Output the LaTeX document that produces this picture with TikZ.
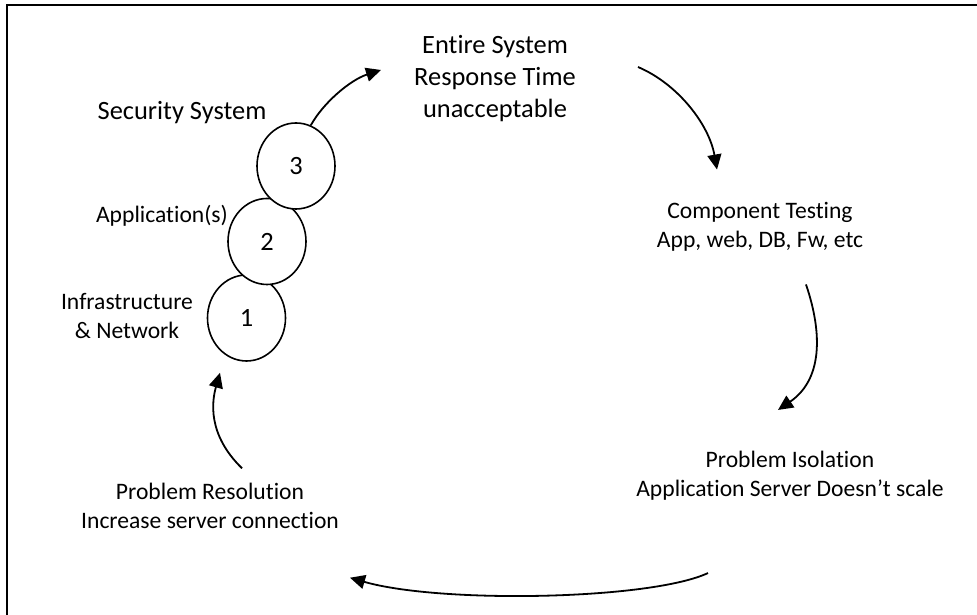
\documentclass[tikz,border=0pt]{standalone}
\usepackage{fontspec}
\setmainfont{Carlito}[Ligatures={NoCommon,NoContextual}]
\usetikzlibrary{positioning,shapes.geometric,arrows.meta,calc}

\begin{document}
\begin{tikzpicture}[
  x=1pt, y=1pt,
  bigtext/.style={font=\fontsize{26.4}{32}\selectfont, align=center, inner sep=0pt},
  smalltext/.style={font=\fontsize{23.6}{28.5}\selectfont, align=center, inner sep=0pt},
  layer/.style={draw, ellipse, fill=white, line width=1.6pt, minimum width=78pt, minimum height=86pt, inner sep=0pt, font=\fontsize{26.4}{32}\selectfont},
  arrow/.style={-{Triangle[length=15pt,width=14pt]}, line width=1.8pt}
]
\useasboundingbox (0,0) rectangle (977,615);
\begin{scope}
  \clip (0,0) rectangle (977,615);
  \draw[line width=2pt] (7,-10) rectangle (990,610);
\end{scope}

% stacked layers
\node[layer] (c1) at (246.5,297) {1};
\node[layer] (c2) at (267,373.5) {2};
\node[layer] (c3) at (296,449) {3};

\node[bigtext, anchor=base] (sec) at (182,495) {Security System};
\node[smalltext, anchor=base] (app) at (162,392) {Application(s)};
\node[smalltext] (infra) at (127,299) {Infrastructure\\\& Network};

% cycle steps
\node[bigtext] (entire) at (495,536) {Entire System\\Response Time\\unacceptable};
\node[smalltext] (comp) at (760,388) {Component Testing\\App, web, DB, Fw, etc};
\node[smalltext] (iso) at (790,139.5) {Problem Isolation\\Application Server Doesn’t scale};
\node[smalltext] (res) at (210,109) {Problem Resolution\\Increase server connection};

\draw[arrow] (c3.70) .. controls +(12,22) and +(-31,-10) .. ([shift={(-33,9)}]entire.west);
\draw[arrow] ([shift={(62,12)}]entire.east) .. controls +(40,-17) and +(-8,45) .. ([shift={(-43,33)}]comp.north);
\draw[arrow] ([shift={(46,-33)}]comp.south) .. controls +(17,-50) and +(44,30) .. ([shift={(-12,41)}]iso.north);
\draw[arrow] ([shift={(-82,-73)}]iso.south) .. controls +(-58,-27) and +(90,-26) .. ([shift={(140,-49)}]res.south);
\draw[arrow] ([shift={(32,15)}]res.north) .. controls +(-35,34) and +(-8,-28) .. ([shift={(-26.5,-11)}]c1.south);
\end{tikzpicture}
\end{document}
